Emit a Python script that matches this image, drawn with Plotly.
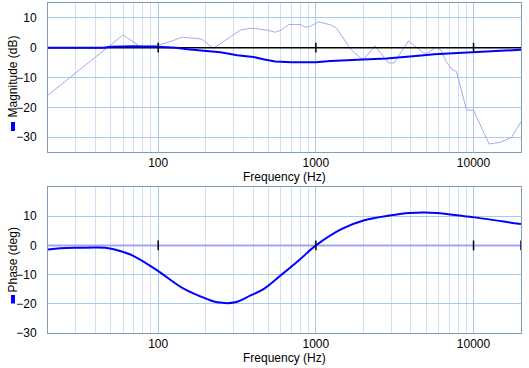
import plotly.graph_objects as go
from plotly.subplots import make_subplots

# ---- data ----
meas_freq = [20, 60, 77, 100, 119, 141, 176, 190, 224, 332, 384, 413, 490, 553, 604, 674, 803, 845, 909,
             1037, 1249, 1350, 1681, 1945, 2032, 2370, 2886, 3127, 3868, 4378, 4815, 5104, 5780, 6219,
             6710, 7358, 7799, 9028, 10000, 12547, 14622, 17427, 20000]
meas_db = [-15.9, 4.3, 0.3, 0.9, 2.0, 3.5, 3.1, 2.8, -0.2, 5.9, 6.5, 6.4, 5.9, 5.2, 5.9, 7.8, 7.8, 7.0, 7.0,
           8.7, 7.6, 6.6, -0.8, -3.6, -3.6, 0.6, -5.1, -5.1, 2.3, 0.0, -1.8, -1.8, 0.1, -0.8,
           -4.7, -7.5, -8.0, -20.9, -21.0, -32.3, -31.8, -30.1, -24.8]

model_freq = [20, 45, 50, 70, 100, 130, 153, 205, 248, 317, 401, 464, 553, 700, 1000, 1235, 1500,
              2000, 2800, 3340, 3900, 4480, 5640, 7130, 9300, 13400, 18300, 20000]
model_db = [0, 0, 0.3, 0.5, 0.3, 0, -0.5, -1.0, -1.5, -2.5, -3.1, -3.9, -4.6, -4.9, -4.9, -4.5, -4.2,
            -4.0, -3.6, -3.3, -3.1, -2.7, -2.2, -1.9, -1.5, -1.2, -0.8, -0.7]

phase_freq = [20, 24, 32, 40, 46, 53, 69, 100, 144, 205, 237, 308, 380, 471, 604, 785, 1000, 1452,
              2032, 3015, 3900, 4900, 5860, 8770, 10140, 20000]
phase_deg = [-1.4, -1.0, -0.8, -0.7, -0.8, -1.4, -3.5, -8.8, -14.7, -18.4, -19.5, -19.5, -17.3, -14.8,
             -10.1, -5.0, 0, 5.6, 8.6, 10.3, 11.1, 11.3, 11.1, 10.0, 9.6, 7.3]

ref_freq = [20, 20000]
ref_zero = [0, 0]
mag_mark_freq = [100, 1000, 10000]
mag_mark_zero = [0, 0, 0]
phase_mark_freq = [100, 1000, 10000, 20000]
phase_mark_zero = [0, 0, 0, 0]

x_tick_vals = [100, 1000, 10000]
x_tick_text = ["100", "1000", "10000"]
x_minor_vals = [20, 30, 40, 50, 60, 70, 80, 90, 200, 300, 400, 500, 600, 700, 800, 900,
                2000, 3000, 4000, 5000, 6000, 7000, 8000, 9000, 20000]
y_tick_vals = [-30, -20, -10, 0, 10]
mag_range = [-35, 15]
phase_range = [-30, 20]

# ---- styles ----
FONT = "Liberation Sans, Arial, sans-serif"
BORDER = "#7f9db9"
GRID_MAJOR = "#a8caee"
GRID_MINOR = "#cde0f7"
BLUE = "#0000ff"
LAV = "#a8a8f2"

W, H = 529, 368
ML, MR, MT, MB = 48, 8, 3, 35
PH = H - MT - MB
PW = W - ML - MR

def py(px):
    return (H - MB - px) / PH

def px_x(px):
    return (px - ML) / PW

fig = make_subplots(rows=2, cols=1, vertical_spacing=0.0)

# top: magnitude
fig.add_trace(go.Scatter(x=meas_freq, y=meas_db, mode="lines",
                         line=dict(color=LAV, width=1), hoverinfo="skip"), row=1, col=1)
fig.add_trace(go.Scatter(x=ref_freq, y=ref_zero, mode="lines",
                         line=dict(color="black", width=1.5), hoverinfo="skip"), row=1, col=1)
fig.add_trace(go.Scatter(x=model_freq, y=model_db, mode="lines",
                         line=dict(color=BLUE, width=2), hoverinfo="skip"), row=1, col=1)
fig.add_trace(go.Scatter(x=mag_mark_freq, y=mag_mark_zero, mode="markers",
                         marker=dict(symbol="line-ns", size=7, line=dict(color="black", width=1.5)),
                         hoverinfo="skip"), row=1, col=1)

# bottom: phase
fig.add_trace(go.Scatter(x=ref_freq, y=ref_zero, mode="lines",
                         line=dict(color="#a4a4f4", width=2), hoverinfo="skip"), row=2, col=1)
fig.add_trace(go.Scatter(x=phase_freq, y=phase_deg, mode="lines", line_shape="spline",
                         line=dict(color=BLUE, width=2), hoverinfo="skip"), row=2, col=1)
fig.add_trace(go.Scatter(x=phase_mark_freq, y=phase_mark_zero, mode="markers",
                         marker=dict(symbol="line-ns", size=7, line=dict(color="black", width=1.5)),
                         hoverinfo="skip"), row=2, col=1)

xcommon = dict(type="log", range=[1.30103, 4.30103], tickvals=x_tick_vals, ticktext=x_tick_text,
               showgrid=True, gridcolor=GRID_MAJOR, gridwidth=1,
               minor=dict(tickvals=x_minor_vals, showgrid=True, gridcolor=GRID_MINOR, gridwidth=1, ticks=""),
               showline=True, linecolor=BORDER, linewidth=1, mirror=True, zeroline=False,
               ticks="", tickfont=dict(family=FONT, size=12, color="black"),
               automargin=False)
ycommon = dict(tickvals=y_tick_vals, showgrid=True, gridcolor=GRID_MAJOR, gridwidth=1,
               showline=True, linecolor=BORDER, linewidth=1, mirror=True, zeroline=False,
               ticks="outside", ticklen=8, tickcolor="rgba(0,0,0,0)",
               tickfont=dict(family=FONT, size=12, color="black"), automargin=False)

fig.update_xaxes(**xcommon)
fig.update_yaxes(**ycommon)
fig.update_yaxes(range=mag_range, domain=[py(152), py(3)], row=1, col=1)
fig.update_yaxes(range=phase_range, domain=[py(333), py(187)], row=2, col=1)

title_font = dict(family=FONT, size=12, color="black")
fig.add_annotation(text="Magnitude (dB)", textangle=-90, xref="paper", yref="paper",
                   x=px_x(12.5), y=py(77), xanchor="center", yanchor="middle", showarrow=False,
                   font=title_font)
fig.add_annotation(text="Phase (deg)", textangle=-90, xref="paper", yref="paper",
                   x=px_x(12.5), y=py(260), xanchor="center", yanchor="middle", showarrow=False,
                   font=title_font)
fig.add_annotation(text="Frequency (Hz)", xref="paper", yref="paper",
                   x=0.5, y=py(176.5), xanchor="center", yanchor="middle", showarrow=False,
                   font=title_font)
fig.add_annotation(text="Frequency (Hz)", xref="paper", yref="paper",
                   x=0.5, y=py(358.5), xanchor="center", yanchor="middle", showarrow=False,
                   font=title_font)
# legend swatches beside the axis titles
fig.add_shape(type="rect", xref="paper", yref="paper", x0=px_x(11), x1=px_x(15), y0=py(131), y1=py(122),
              fillcolor=BLUE, line=dict(width=0))
fig.add_shape(type="rect", xref="paper", yref="paper", x0=px_x(11), x1=px_x(15), y0=py(303.5), y1=py(295),
              fillcolor=BLUE, line=dict(width=0))

fig.update_layout(width=W, height=H, margin=dict(l=ML, r=MR, t=MT, b=MB, autoexpand=False),
                  plot_bgcolor="white", paper_bgcolor="white", showlegend=False,
                  font=dict(family=FONT, size=12, color="black"))

fig.write_html("out.html", config={"displayModeBar": False, "staticPlot": True},
               post_script="document.body.style.margin='0';document.body.style.padding='0';"
                           "document.body.style.overflow='hidden';")
